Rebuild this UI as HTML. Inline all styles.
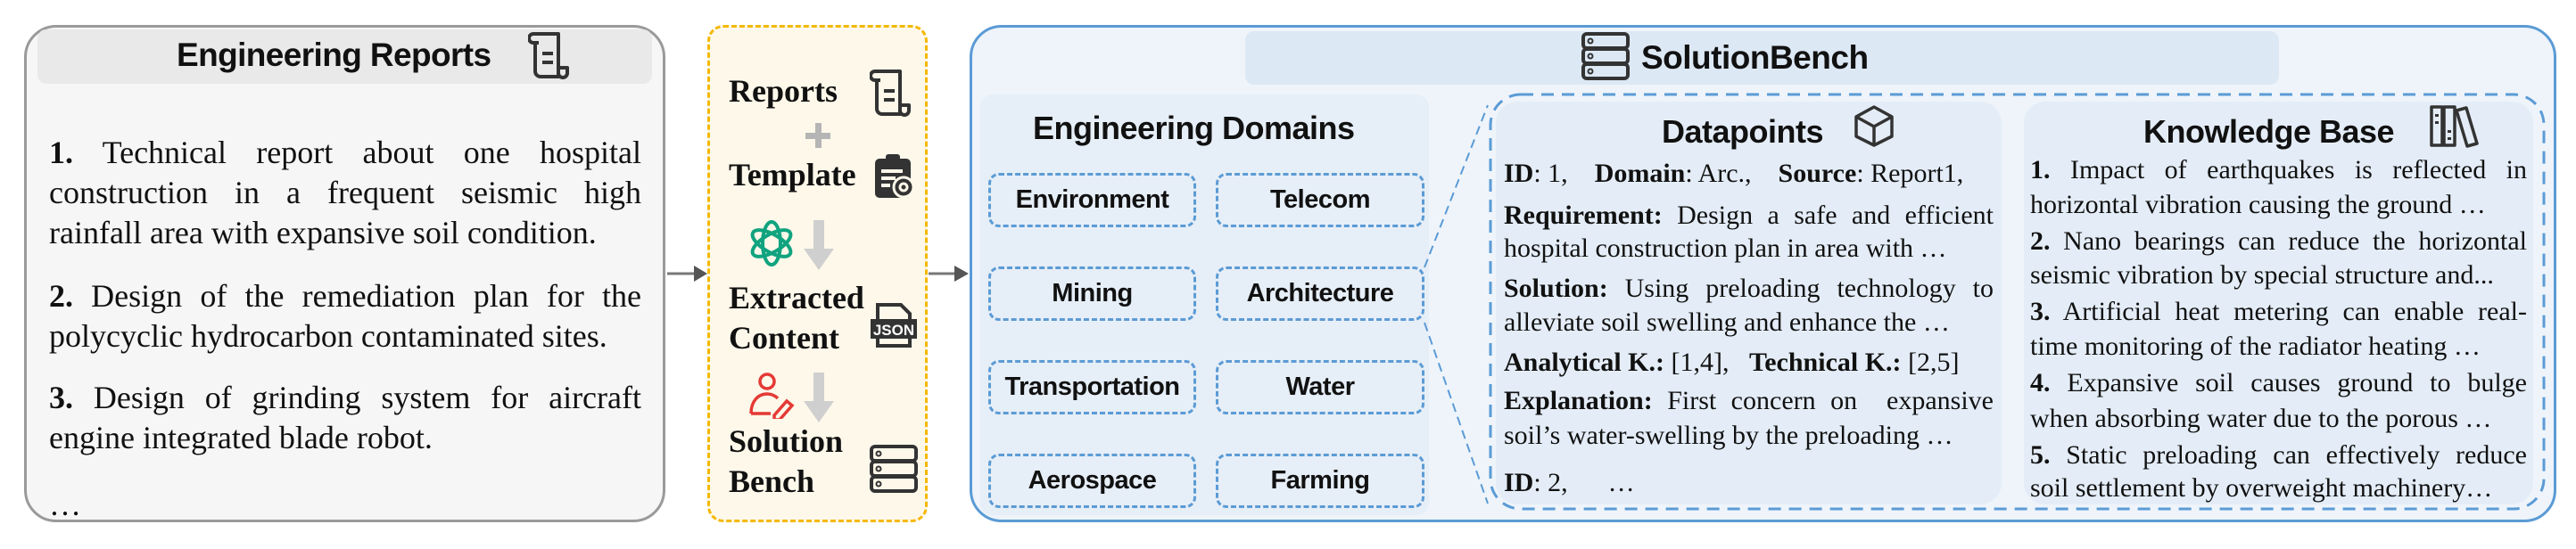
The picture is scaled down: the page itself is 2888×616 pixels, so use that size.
<!DOCTYPE html>
<html><head><meta charset="utf-8">
<style>
html,body{margin:0;padding:0}
body{width:2888px;height:616px;position:relative;background:#fff;overflow:hidden}
.a{position:absolute}
.sans{font-family:"Liberation Sans",sans-serif;font-weight:bold;color:#111}
.serif{font-family:"Liberation Serif",serif;color:#111}
.ln{position:absolute;white-space:nowrap;line-height:1}
.j{text-align:justify;text-align-last:justify;white-space:normal}
.dom{position:absolute;width:229px;height:58px;border:3px dashed #5b9bd5;border-radius:12px;box-sizing:border-box;display:flex;align-items:center;justify-content:center;font-family:"Liberation Sans",sans-serif;font-weight:bold;font-size:29px;color:#111;letter-spacing:-0.5px}
</style></head><body>

<!-- Left box -->
<div class="a" style="left:27px;top:28px;width:719px;height:558px;background:#f6f6f6;border:3px solid #9a9a9a;border-radius:36px;box-sizing:border-box"></div>
<div class="a" style="left:42px;top:33px;width:689px;height:61px;background:#e9e9e9;border-radius:10px"></div>
<div class="a sans" style="left:198px;top:42px;font-size:37px;letter-spacing:-0.6px;line-height:40px">Engineering Reports</div>
<svg class="a" style="left:592px;top:34px" width="54" height="56" viewBox="0 0 54 56"><g fill="none" stroke="#333" stroke-width="4" stroke-linejoin="round"><path d="M6 4h28v48H14a6 6 0 0 1-6-6V12"/><path d="M6 4a5 5 0 0 0 0 10h6"/><path d="M34 4v44a5 5 0 0 0 10 0v-6H34"/><path d="M16 26h12M16 36h12"/></g></svg>

<div class="serif" style="font-size:36px">
<div class="ln j" style="left:55px;top:153px;width:664px"><b>1.</b> Technical report about one hospital</div>
<div class="ln j" style="left:55px;top:198px;width:664px">construction in a frequent seismic high</div>
<div class="ln" style="left:55px;top:243px">rainfall area with expansive soil condition.</div>
<div class="ln j" style="left:55px;top:314px;width:664px"><b>2.</b> Design of the remediation plan for the</div>
<div class="ln" style="left:55px;top:359px">polycyclic hydrocarbon contaminated sites.</div>
<div class="ln j" style="left:55px;top:428px;width:664px"><b>3.</b> Design of grinding system for aircraft</div>
<div class="ln" style="left:55px;top:473px">engine integrated blade robot.</div>
<div class="ln" style="left:55px;top:548px">…</div>
</div>

<!-- arrows -->
<svg class="a" style="left:746px;top:295px" width="345" height="26"><g fill="#555" stroke="#777"><line x1="2" y1="12" x2="34" y2="12" stroke-width="3"/><path d="M32 3 L47 12 L32 21Z" stroke="none"/><line x1="295" y1="12" x2="326" y2="12" stroke-width="3"/><path d="M324 3 L340 12 L324 21Z" stroke="none"/></g></svg>

<!-- middle box -->
<div class="a" style="left:793px;top:28px;width:247px;height:558px;background:#fdf8ea;border:3px dashed #f5b800;border-radius:18px;box-sizing:border-box"></div>
<div class="serif" style="font-size:36px;font-weight:bold">
<div class="ln" style="left:817px;top:84px">Reports</div>
<div class="ln" style="left:817px;top:178px">Template</div>
<div class="ln" style="left:817px;top:316px">Extracted</div>
<div class="ln" style="left:817px;top:361px">Content</div>
<div class="ln" style="left:817px;top:477px">Solution</div>
<div class="ln" style="left:817px;top:522px">Bench</div>
</div>
<svg class="a" style="left:975px;top:76px" width="54" height="56" viewBox="0 0 54 56"><g fill="none" stroke="#333" stroke-width="4" stroke-linejoin="round"><path d="M6 4h28v48H14a6 6 0 0 1-6-6V12"/><path d="M6 4a5 5 0 0 0 0 10h6"/><path d="M34 4v44a5 5 0 0 0 10 0v-6H34"/><path d="M16 26h12M16 36h12"/></g></svg>
<div class="a" style="left:903px;top:149px;width:28px;height:7px;background:#b5b5b5"></div>
<div class="a" style="left:914px;top:138px;width:7px;height:28px;background:#b5b5b5"></div>
<svg class="a" style="left:979px;top:172px" width="48" height="52" viewBox="0 0 48 52"><rect x="2" y="6" width="40" height="44" rx="5" fill="#333"/><rect x="14" y="1" width="16" height="9" rx="3" fill="#333"/><path d="M9 20h24M9 28h16M9 36h10" stroke="#fdf8ea" stroke-width="4"/><circle cx="34" cy="38" r="11" fill="#333" stroke="#fdf8ea" stroke-width="3"/><circle cx="34" cy="38" r="4" fill="none" stroke="#fdf8ea" stroke-width="3"/></svg>
<svg class="a" style="left:838px;top:246px" width="54" height="54" viewBox="0 0 54 54"><g fill="none" stroke="#10a37f" stroke-width="4"><ellipse cx="27" cy="27" rx="10" ry="24"/><ellipse cx="27" cy="27" rx="10" ry="24" transform="rotate(60 27 27)"/><ellipse cx="27" cy="27" rx="10" ry="24" transform="rotate(120 27 27)"/></g></svg>
<svg class="a" style="left:900px;top:247px" width="36" height="58"><rect x="12" y="0" width="12" height="34" fill="#cfcfcf"/><path d="M1 32h34L18 56z" fill="#cfcfcf"/></svg>
<svg class="a" style="left:974px;top:336px" width="56" height="56" viewBox="0 0 56 56"><g fill="none" stroke="#333" stroke-width="4"><path d="M10 22V6h26l10 10v6M10 44v8h36v-8"/></g><rect x="2" y="22" width="52" height="22" fill="#333"/><text x="28" y="40" font-family="Liberation Sans" font-size="17" font-weight="bold" fill="#fff" text-anchor="middle">JSON</text></svg>
<svg class="a" style="left:838px;top:418px" width="56" height="52" viewBox="0 0 56 52"><g fill="none" stroke="#e53935" stroke-width="3.5"><circle cx="22" cy="10" r="8"/><path d="M4 46c0-14 8-22 18-22 5 0 9 2 12 5"/><path d="M4 46h22"/><path d="M30 48l14-16 6 5-14 16h-6z"/></g></svg>
<svg class="a" style="left:900px;top:418px" width="36" height="58"><rect x="12" y="0" width="12" height="34" fill="#cfcfcf"/><path d="M1 32h34L18 56z" fill="#cfcfcf"/></svg>
<svg class="a" style="left:974px;top:498px" width="56" height="58" viewBox="0 0 56 58"><g fill="none" stroke="#333" stroke-width="4"><rect x="3" y="3" width="50" height="16" rx="4"/><rect x="3" y="20" width="50" height="16" rx="4"/><rect x="3" y="37" width="50" height="16" rx="4"/><circle cx="11" cy="11" r="2.5" stroke-width="2"/><circle cx="11" cy="28" r="2.5" stroke-width="2"/><circle cx="11" cy="45" r="2.5" stroke-width="2"/></g></svg>

<!-- Right big box -->
<div class="a" style="left:1087px;top:28px;width:1779px;height:558px;background:#eef4fa;border:3px solid #5b9bd5;border-radius:36px;box-sizing:border-box"></div>
<div class="a" style="left:1396px;top:35px;width:1159px;height:60px;background:#dce8f4;border-radius:10px"></div>
<svg class="a" style="left:1772px;top:36px" width="56" height="56" viewBox="0 0 56 56"><g fill="none" stroke="#333" stroke-width="4"><rect x="3" y="2" width="50" height="16" rx="4"/><rect x="3" y="19" width="50" height="16" rx="4"/><rect x="3" y="36" width="50" height="16" rx="4"/><circle cx="11" cy="10" r="2.5" stroke-width="2"/><circle cx="11" cy="27" r="2.5" stroke-width="2"/><circle cx="11" cy="44" r="2.5" stroke-width="2"/></g></svg>
<div class="a sans" style="left:1840px;top:45px;font-size:37px;letter-spacing:-0.5px;line-height:40px">SolutionBench</div>

<!-- domains panel -->
<div class="a" style="left:1099px;top:106px;width:503px;height:472px;background:#e6eef7;border-radius:14px"></div>
<div class="a sans" style="left:1158px;top:124px;font-size:36px;letter-spacing:-0.5px;line-height:40px">Engineering Domains</div>
<div class="dom" style="left:1108px;top:194px;width:233px;height:61px">Environment</div>
<div class="dom" style="left:1363px;top:194px;width:234px;height:61px">Telecom</div>
<div class="dom" style="left:1108px;top:299px;width:233px;height:61px">Mining</div>
<div class="dom" style="left:1363px;top:299px;width:234px;height:61px">Architecture</div>
<div class="dom" style="left:1108px;top:404px;width:233px;height:61px">Transportation</div>
<div class="dom" style="left:1363px;top:404px;width:234px;height:61px">Water</div>
<div class="dom" style="left:1108px;top:509px;width:233px;height:61px">Aerospace</div>
<div class="dom" style="left:1363px;top:509px;width:234px;height:61px">Farming</div>

<svg class="a" style="left:0;top:0" width="2888" height="616"><g fill="none" stroke="#5b9bd5" stroke-width="2" stroke-dasharray="10 6"><path d="M1597 300 L1668 118"/><path d="M1597 362 L1668 565"/></g>
<rect x="1671" y="106" width="1181" height="465" rx="34" fill="none" stroke="#5b9bd5" stroke-width="3" stroke-dasharray="14 9"/></svg>

<!-- datapoints -->
<div class="a" style="left:1677px;top:114px;width:567px;height:452px;background:#e4edf7;border-radius:24px"></div>
<div class="a sans" style="left:1863px;top:128px;font-size:36px;letter-spacing:-0.5px;line-height:40px">Datapoints</div>
<svg class="a" style="left:2077px;top:117px" width="48" height="48" viewBox="0 0 48 48"><g fill="none" stroke="#333" stroke-width="3.5" stroke-linejoin="round"><path d="M24 3L44 14v22L24 46 4 36V14z"/><path d="M4 14l20 11 20-11M24 25v21"/></g></svg>
<div class="serif" style="font-size:30px">
<div class="ln" style="left:1686px;top:180px"><b>ID</b>: 1,&nbsp;&nbsp;&nbsp; <b>Domain</b>: Arc.,&nbsp;&nbsp;&nbsp; <b>Source</b>: Report1,</div>
<div class="ln j" style="left:1686px;top:227px;width:549px"><b>Requirement:</b> Design a safe and efficient</div>
<div class="ln" style="left:1686px;top:264px">hospital construction plan in area with …</div>
<div class="ln j" style="left:1686px;top:309px;width:549px"><b>Solution:</b> Using preloading technology to</div>
<div class="ln" style="left:1686px;top:347px">alleviate soil swelling and enhance the …</div>
<div class="ln" style="left:1686px;top:392px"><b>Analytical K.:</b> [1,4],&nbsp;&nbsp; <b>Technical K.:</b> [2,5]</div>
<div class="ln j" style="left:1686px;top:435px;width:549px"><b>Explanation:</b> First concern on &nbsp;expansive</div>
<div class="ln" style="left:1686px;top:474px">soil’s water-swelling by the preloading …</div>
<div class="ln" style="left:1686px;top:527px"><b>ID</b>: 2,&nbsp;&nbsp;&nbsp;&nbsp;&nbsp; …</div>
</div>

<!-- knowledge base -->
<div class="a" style="left:2269px;top:114px;width:571px;height:452px;background:#e4edf7;border-radius:24px"></div>
<div class="a sans" style="left:2403px;top:128px;font-size:36px;letter-spacing:-0.5px;line-height:40px">Knowledge Base</div>
<svg class="a" style="left:2723px;top:116px" width="56" height="50" viewBox="0 0 56 50"><g fill="none" stroke="#333" stroke-width="3.5" stroke-linejoin="round"><rect x="3" y="4" width="12" height="43"/><rect x="17" y="4" width="12" height="43"/><path d="M31 8l11-3 12 40-11 3z"/></g><g fill="#333"><rect x="7" y="12" width="4" height="3"/><rect x="7" y="20" width="4" height="3"/><rect x="21" y="30" width="4" height="3"/><rect x="21" y="38" width="4" height="3"/></g></svg>
<div class="serif" style="font-size:30px">
<div class="ln j" style="left:2276px;top:176px;width:557px"><b>1.</b> Impact of earthquakes is reflected in</div>
<div class="ln" style="left:2276px;top:215px">horizontal vibration causing the ground …</div>
<div class="ln j" style="left:2276px;top:256px;width:557px"><b>2.</b> Nano bearings can reduce the horizontal</div>
<div class="ln" style="left:2276px;top:294px">seismic vibration by special structure and...</div>
<div class="ln j" style="left:2276px;top:335px;width:557px"><b>3.</b> Artificial heat metering can enable real-</div>
<div class="ln" style="left:2276px;top:374px">time monitoring of the radiator heating …</div>
<div class="ln j" style="left:2276px;top:415px;width:557px"><b>4.</b> Expansive soil causes ground to bulge</div>
<div class="ln" style="left:2276px;top:455px">when absorbing water due to the porous …</div>
<div class="ln j" style="left:2276px;top:496px;width:557px"><b>5.</b> Static preloading can effectively reduce</div>
<div class="ln" style="left:2276px;top:533px">soil settlement by overweight machinery…</div>
</div>

</body></html>
